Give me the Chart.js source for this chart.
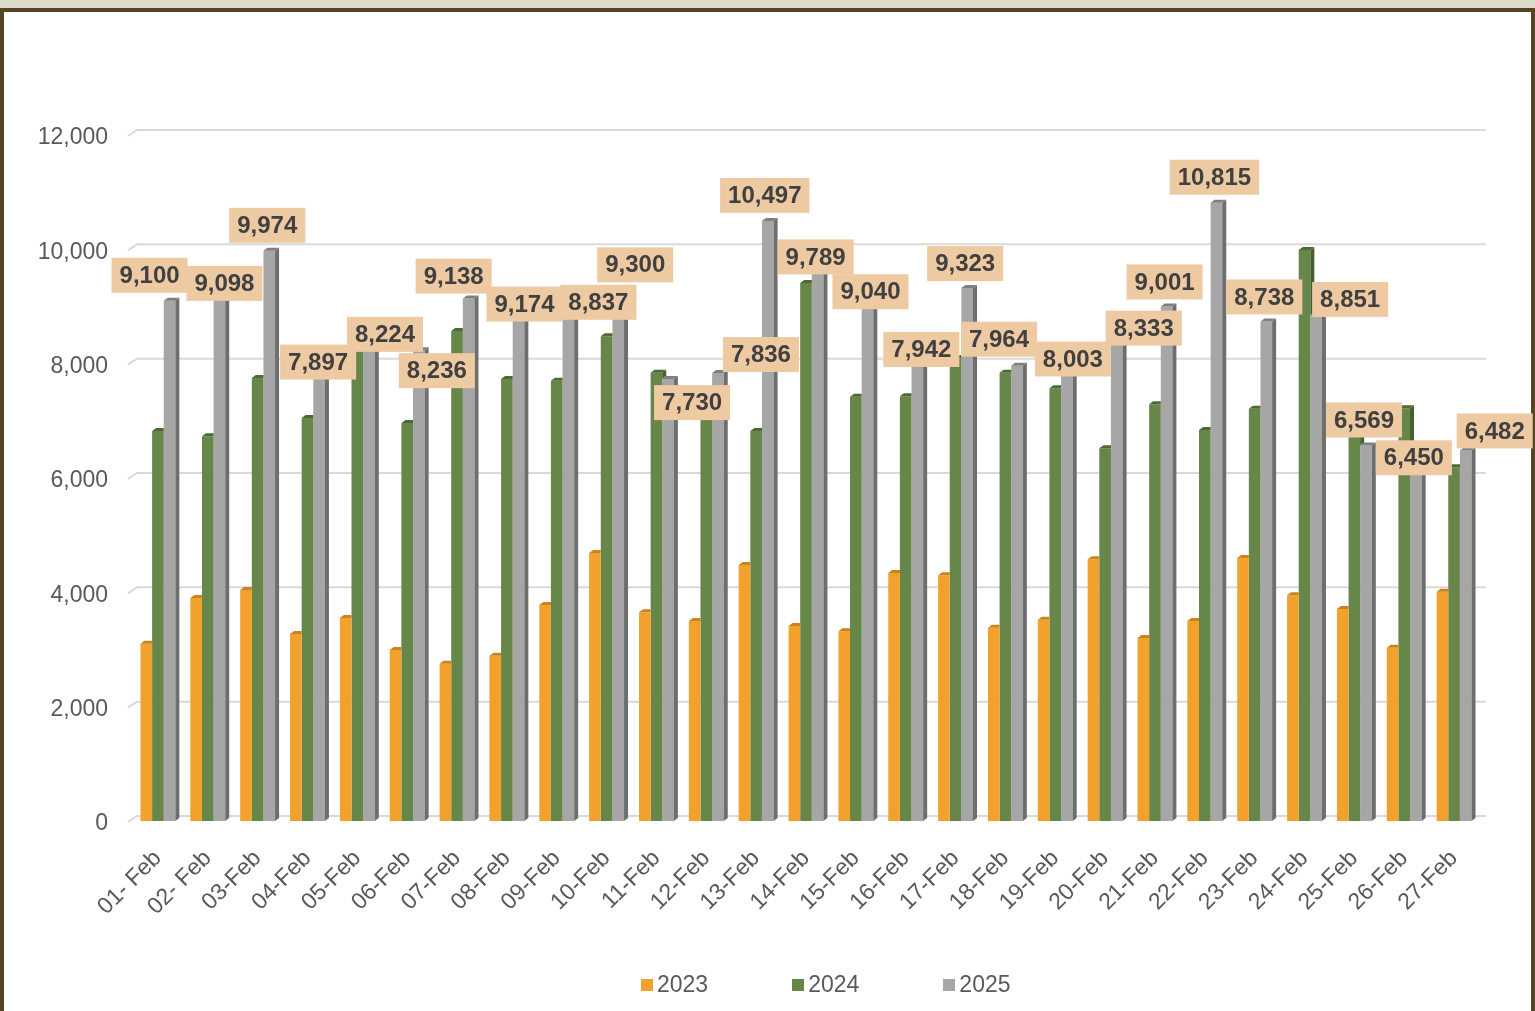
<!DOCTYPE html>
<html>
<head>
<meta charset="utf-8">
<script src="https://cdn.jsdelivr.net/npm/chart.js@4.4.1/dist/chart.umd.min.js"></script>
<style>
  html, body { margin: 0; padding: 0; background: #dadcc9; overflow: hidden; }
  #frame {
    position: absolute; left: 0; top: 8px; width: 1535px; height: 1010px;
    box-sizing: border-box; border: 4px solid #574422; background: #fff;
  }
  #chart { position: absolute; left: 0; top: 0; }
  #legend {
    position: absolute; left: 641px; top: 971px; display: flex; align-items: center;
    font-family: "Liberation Sans", Arial, sans-serif; font-size: 23px; color: #595959;
  }
  #legend .item { display: flex; align-items: center; margin-right: 84px; }
  #legend .sw { width: 12px; height: 12px; margin-right: 4px; }
</style>
</head>
<body>
<div id="frame"></div>
<canvas id="chart" width="1535" height="1011"></canvas>
<div id="legend"></div>
<script>
// categories and series
var days = ["01- Feb", "02- Feb", "03-Feb", "04-Feb", "05-Feb", "06-Feb", "07-Feb", "08-Feb", "09-Feb",
  "10-Feb", "11-Feb", "12-Feb", "13-Feb", "14-Feb", "15-Feb", "16-Feb", "17-Feb", "18-Feb",
  "19-Feb", "20-Feb", "21-Feb", "22-Feb", "23-Feb", "24-Feb", "25-Feb", "26-Feb", "27-Feb"];

var y2023 = [3100, 3900, 4040, 3270, 3550, 2990, 2750, 2890, 3780, 4690, 3650, 3500, 4480, 3410,
  3320, 4340, 4300, 3380, 3520, 4580, 3200, 3500, 4600, 3950, 3710, 3030, 4010];

var y2024 = [6820, 6730, 7750, 7050, 8250, 6960, 8570, 7730, 7700, 8480, 7840, 7200, 6820, 9410,
  7420, 7430, 8100, 7840, 7570, 6520, 7290, 6840, 7210, 9990, 6750, 7220, 6190];

var y2025 = [9100, 9098, 9974, 7897, 8224, 8236, 9138, 9174, 8837, 9300, 7730, 7836, 10497, 9789,
  9040, 7942, 9323, 7964, 8003, 8333, 9001, 10815, 8738, 8851, 6569, 6450, 6482];

var yTicks = [0, 2000, 4000, 6000, 8000, 10000, 12000];

// label nudges (px) so the boxes sit like the original
var labelShift = [[-18, 0], [7, 8], [0, 0], [1, 18], [18, 9], [20, 46], [-13, 3], [8, 33], [32, 12],
  [19, 1], [26, 49], [45, 7], [-1, 0], [0, 21], [5, 13], [6, 8], [0, 1], [-16, -1], [8, 21],
  [29, 9], [0, 1], [0, 0], [0, 1], [36, 10], [0, 0], [0, 31], [31, 6]];

var FONT = "'Liberation Sans', Arial, sans-serif";
var series = [
  { label: "2023", data: y2023, color: "#f2a12d", top: "#c98320", side: "#b87518" },
  { label: "2024", data: y2024, color: "#67864a", top: "#4e6a34", side: "#46602f" },
  { label: "2025", data: y2025, color: "#a6a6a6", top: "#7f7f7f", side: "#6e6e6e" }
];

var DX = 4, DY = -3;

// gridlines with a little back-wall slant
var gridPlugin = {
  id: 'grid3d',
  beforeDatasetsDraw: function(chart) {
    var ctx = chart.ctx, y = chart.scales.y, a = chart.chartArea;
    ctx.save();
    ctx.strokeStyle = '#d9d9d9';
    ctx.lineWidth = 2;
    yTicks.forEach(function(t) {
      var py = y.getPixelForValue(t);
      ctx.beginPath();
      ctx.moveTo(a.left - 5, py + 1);
      ctx.lineTo(a.left + 4, py - 5);
      ctx.lineTo(a.right + 7, py - 5);
      ctx.stroke();
    });
    ctx.restore();
  }
};

// top + side faces of the columns; a face hidden behind the next column is cut off
var facePlugin = {
  id: 'faces',
  afterDatasetsDraw: function(chart) {
    var ctx = chart.ctx;
    var metas = [0, 1, 2].map(function(i) { return chart.getDatasetMeta(i).data; });
    for (var d = 0; d < 3; d++) {
      var s = series[d];
      metas[d].forEach(function(bar, i) {
        var l = bar.x - bar.width / 2, r = bar.x + bar.width / 2;
        var next = d < 2 ? metas[d + 1][i] : null;
        var sideBottom = next ? Math.min(bar.base, next.y) : bar.base;
        ctx.save();
        if (sideBottom > bar.y) {
          ctx.fillStyle = s.side;
          ctx.beginPath();
          ctx.moveTo(r, bar.y); ctx.lineTo(r + DX, bar.y + DY);
          ctx.lineTo(r + DX, sideBottom + DY); ctx.lineTo(r, sideBottom);
          ctx.closePath(); ctx.fill();
        }
        if (next && next.y < bar.y) {
          ctx.beginPath(); ctx.rect(0, 0, r, chart.height); ctx.clip();
        }
        ctx.fillStyle = s.top;
        ctx.beginPath();
        ctx.moveTo(l, bar.y); ctx.lineTo(l + DX, bar.y + DY);
        ctx.lineTo(r + DX, bar.y + DY); ctx.lineTo(r, bar.y);
        ctx.closePath(); ctx.fill();
        ctx.restore();
      });
    }
  }
};

// value boxes for 2025
var labelPlugin = {
  id: 'boxes',
  afterDatasetsDraw: function(chart) {
    var ctx = chart.ctx, meta = chart.getDatasetMeta(2);
    ctx.save();
    ctx.font = "bold 24px " + FONT;
    ctx.textAlign = 'center';
    ctx.textBaseline = 'middle';
    meta.data.forEach(function(bar, i) {
      var txt = y2025[i].toLocaleString('en-US');
      var w = ctx.measureText(txt).width + 16, h = 35;
      var cx = bar.x - 2 + labelShift[i][0];
      var bottom = bar.y - 8 + labelShift[i][1];
      ctx.fillStyle = '#eecaa3';
      ctx.fillRect(cx - w / 2, bottom - h, w, h);
      ctx.fillStyle = '#404040';
      ctx.fillText(txt, cx, bottom - h / 2 + 1);
    });
    ctx.restore();
  }
};

new Chart(document.getElementById('chart'), {
  type: 'bar',
  data: {
    labels: days,
    datasets: series.map(function(s) {
      return { label: s.label, data: s.data, backgroundColor: s.color,
        categoryPercentage: 0.7, barPercentage: 1.0, borderWidth: 0 };
    })
  },
  options: {
    responsive: false,
    animation: false,
    devicePixelRatio: 1,
    layout: { padding: { left: 20, right: 56, top: 135, bottom: 90 } },
    plugins: { legend: { display: false }, tooltip: { enabled: false } },
    scales: {
      x: {
        grid: { display: false, drawTicks: false },
        border: { display: false },
        ticks: { color: '#595959', font: { family: FONT, size: 23 }, minRotation: 45, maxRotation: 45, padding: 24, autoSkip: false },
        afterFit: function(s) { s.height = 100; }
      },
      y: {
        min: 0, max: 12000,
        grid: { display: false, drawTicks: false },
        border: { display: false },
        ticks: {
          stepSize: 2000, color: '#595959', font: { family: FONT, size: 23 }, padding: 25, labelOffset: 3,
          callback: function(v) { return v.toLocaleString('en-US'); }
        },
        afterFit: function(s) { s.width = 113; }
      }
    }
  },
  plugins: [gridPlugin, facePlugin, labelPlugin]
});

// legend
var lg = document.getElementById('legend');
series.forEach(function(s) {
  var it = document.createElement('div');
  it.className = 'item';
  it.innerHTML = '<span class="sw" style="background:' + s.color + '"></span><span>' + s.label + '</span>';
  lg.appendChild(it);
});
</script>
</body>
</html>
